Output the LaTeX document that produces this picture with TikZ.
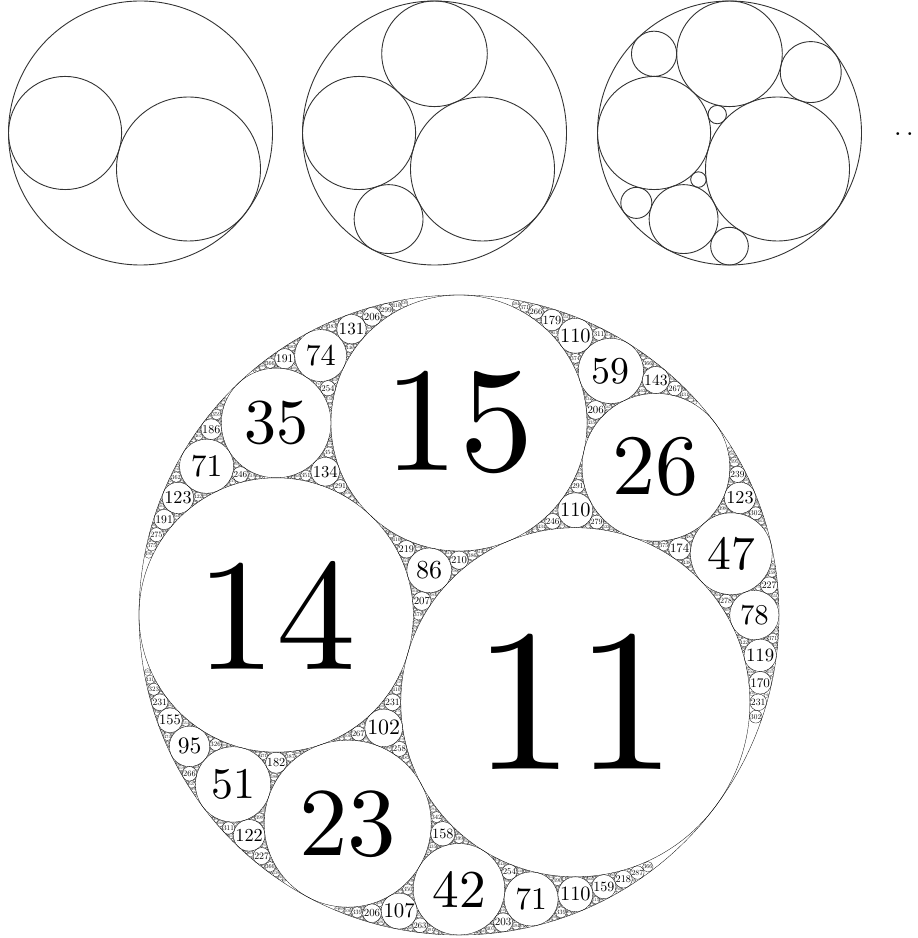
\documentclass[tikz,border=0pt]{standalone}
\usetikzlibrary{positioning}

\makeatletter
% a circle is stored as curvature/curvature*x/curvature*y (outer radius = 6/6)
\def\cK#1/#2/#3!{#1}
\def\cX#1/#2/#3!{#2}
\def\cY#1/#2/#3!{#3}
\newif\ifcurvlabels
\def\kcut{4000}

% one circle of curvature #1, centre (#2,#3)/#1 in units of \gR sp
\newcommand\curvcirc[3]{%
  \edef\cR{\the\numexpr 6*\gR/#1\relax}%
  \edef\cPX{\the\numexpr #2*\gR/#1\relax}%
  \edef\cPY{\the\numexpr #3*\gR/#1\relax}%
  \ifcurvlabels
    % small circles get thinner lines
    \edef\cW{\the\dimexpr\cR sp*5/100\relax}%
    \ifdim\cW>0.3pt \def\cW{0.3pt}\fi
    \draw[gcirc, line width=\cW] (\cPX sp,\cPY sp) circle[radius=\cR sp];
    \ifnum\cR>52429
      \edef\cS{\strip@pt\dimexpr\cR sp*1000/8587\relax}%
      \node[curvlabel,scale=\cS] at (\cPX sp,\cPY sp) {#1};
    \fi
  \else
    \draw[gcirc] (\cPX sp,\cPY sp) circle[radius=\cR sp];
  \fi}

% fill the gap of #2,#3,#4 (the other circle in it is #5), #1 levels deep
\newcommand\gapfill[5]{%
  \ifnum#1>0\relax
    \edef\nK{\the\numexpr2*(\cK#2!+\cK#3!+\cK#4!)-\cK#5!\relax}%
    \ifnum\nK>\kcut\relax
      \let\gapnext\relax
    \else
      \edef\nX{\the\numexpr2*(\cX#2!+\cX#3!+\cX#4!)-\cX#5!\relax}%
      \edef\nY{\the\numexpr2*(\cY#2!+\cY#3!+\cY#4!)-\cY#5!\relax}%
      \curvcirc{\nK}{\nX}{\nY}%
      \edef\gapnext{%
        \noexpand\gapfill{\the\numexpr#1-1}{#2}{#3}{\nK/\nX/\nY}{#4}%
        \noexpand\gapfill{\the\numexpr#1-1}{#2}{#4}{\nK/\nX/\nY}{#3}%
        \noexpand\gapfill{\the\numexpr#1-1}{#3}{#4}{\nK/\nX/\nY}{#2}}%
    \fi
    \expandafter\gapnext
  \fi}

% gasket (-6,11,14,...) after #1 stages
\newcommand\apollo[1]{%
  \draw[gcirc] (0,0) circle[radius=\gR sp];
  \curvcirc{11}{4}{-3}%
  \curvcirc{14}{-8}{0}%
  \gapfill{\the\numexpr#1-1}{-6/0/0}{11/4/-3}{14/-8/0}{15/0/9}%
  \gapfill{\the\numexpr#1-1}{-6/0/0}{11/4/-3}{14/-8/0}{23/-8/-15}}
\makeatother

\tikzset{
  stagecirc/.style={line width=0.9pt, draw=black!80},
  bigcirc/.style={line width=0.3pt, draw=black},
  curvlabel/.style={inner sep=0pt, text=black}
}

\begin{document}
\begin{tikzpicture}[x=1pt, y=1pt]
  \useasboundingbox (0,0) rectangle (918,938);

  % first three stages
  \foreach \st/\px in {1/140.5, 2/434.5, 3/729.5} {
    \begin{scope}[shift={(\px,805)}, gcirc/.style=stagecirc]
      \edef\gR{\number\dimexpr132pt\relax}
      \apollo{\st}
    \end{scope}
  }
  \node[anchor=base west, inner sep=0pt, scale=2.7] (more) at (893.5,802.3) {$\ldots$};

  % the gasket with curvatures
  \begin{scope}[shift={(459,323)}, gcirc/.style=bigcirc]
    \edef\gR{\number\dimexpr320pt\relax}
    \curvlabelstrue
    \apollo{9}
  \end{scope}
\end{tikzpicture}
\end{document}
